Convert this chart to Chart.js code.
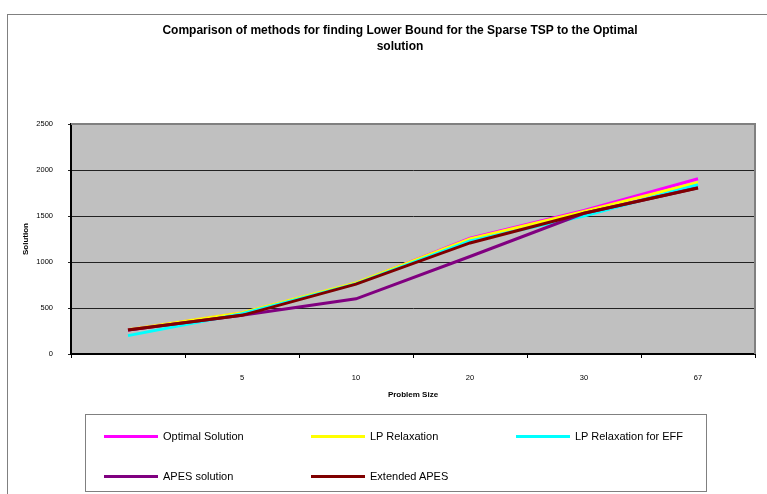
<!DOCTYPE html>
<html>
<head>
<meta charset="utf-8">
<script src="https://cdn.jsdelivr.net/npm/chart.js@4"></script>
<style>
  body { margin: 0; background: #fff; font-family: "Liberation Sans", Arial, sans-serif; }
  #wrap { position: relative; width: 767px; height: 494px; overflow: hidden; }
  #frame { position: absolute; left: 7px; top: 14px; width: 800px; height: 500px;
           border-left: 1px solid #808080; border-top: 1px solid #808080; }
  #title { position: absolute; left: 100px; width: 600px; top: 22px; text-align: center;
           font-weight: bold; font-size: 12px; line-height: 16px; color: #000; }
  #legend { position: absolute; left: 85px; top: 414px; width: 622px; height: 78px;
            border: 1px solid #808080; box-sizing: border-box; }
  .item { position: absolute; font-size: 11px; color: #000; white-space: nowrap; }
  .item span.line { position: absolute; left: 0; top: 6px; width: 54px; height: 3px; }
  .item span.txt { position: absolute; left: 59px; top: 0; line-height: 14px; }
  canvas { position: absolute; left: 0; top: 0; }
</style>
</head>
<body>
<div id="wrap">
  <div id="frame"></div>
  <canvas id="lineChart" width="767" height="494"></canvas>
  <div id="title">Comparison of methods for finding Lower Bound for the Sparse TSP to the Optimal<br>solution</div>
  <div id="legend"></div>
</div>
<script>
var sizes = ['', '5', '10', '20', '30', '67'];
var seriesNames = ['Optimal Solution', 'LP Relaxation', 'LP Relaxation for EFF', 'APES solution', 'Extended APES'];
var optimal = [262, 445, 768, 1258, 1560, 1905];
var lpRelax = [265, 448, 772, 1252, 1550, 1865];
var lpEff = [200, 438, 762, 1230, 1500, 1840];
var apes = [260, 420, 600, 1060, 1530, 1808];
var extApes = [262, 420, 760, 1207, 1530, 1805];
var lineColors = ['#ff00ff', '#ffff00', '#00ffff', '#800080', '#800000'];

var allSeries = [optimal, lpRelax, lpEff, apes, extApes];

var plotArea = {
    id: 'plotArea',
    beforeDraw: function (chart) {
        var a = chart.chartArea, ctx = chart.ctx;
        ctx.save();
        ctx.fillStyle = '#c0c0c0';
        ctx.fillRect(a.left, a.top, a.right - a.left, a.bottom - a.top);
        ctx.restore();
    },
    afterDraw: function (chart) {
        var a = chart.chartArea, ctx = chart.ctx;
        ctx.save();
        ctx.strokeStyle = '#808080';
        ctx.lineWidth = 2;
        ctx.beginPath();
        ctx.moveTo(a.left, a.top);
        ctx.lineTo(a.right, a.top);
        ctx.lineTo(a.right, a.bottom);
        ctx.stroke();
        ctx.restore();
    }
};

var chart = new Chart(document.getElementById('lineChart'), {
    type: 'line',
    data: {
        labels: sizes,
        datasets: allSeries.map(function (vals, i) {
            return {
                label: seriesNames[i],
                data: vals,
                borderColor: lineColors[i],
                backgroundColor: lineColors[i],
                borderWidth: 3,
                pointRadius: 0,
                tension: 0,
                fill: false,
                order: 5 - i
            };
        })
    },
    options: {
        responsive: false,
        animation: false,
        layout: { padding: { left: 17, right: 12, top: 124, bottom: 90 } },
        plugins: {
            legend: { display: false },
            title: { display: false },
            tooltip: { enabled: false }
        },
        scales: {
            x: {
                offset: true,
                afterFit: function (s) { s.height = 50; },
                grid: { drawOnChartArea: false, drawTicks: true, tickLength: 4, color: '#000', offset: true },
                border: { color: '#000', width: 2 },
                ticks: { color: '#000', padding: 15, maxRotation: 0, font: { family: 'Liberation Sans', size: 7.5 } },
                title: { display: true, text: 'Problem Size', color: '#000',
                         font: { family: 'Liberation Sans', size: 8, weight: 'bold' } }
            },
            y: {
                min: 0,
                max: 2500,
                afterFit: function (s) { s.width = 54; },
                grid: { color: '#222', tickLength: 3 },
                border: { color: '#000', width: 2 },
                ticks: {
                    stepSize: 500, color: '#000', padding: 15,
                    font: { family: 'Liberation Sans', size: 7.5 },
                    callback: function (v) { return String(v); }
                },
                title: { display: true, text: 'Solution', color: '#000',
                         font: { family: 'Liberation Sans', size: 8, weight: 'bold' } }
            }
        }
    },
    plugins: [plotArea]
});

// legend in three columns, like the original
var legend = document.getElementById('legend');
var colX = [18, 225, 430];
var rowY = [14, 54];
chart.data.datasets.forEach(function (ds, i) {
    var item = document.createElement('div');
    item.className = 'item';
    item.style.left = colX[i % 3] + 'px';
    item.style.top = rowY[Math.floor(i / 3)] + 'px';
    item.innerHTML = '<span class="line" style="background:' + ds.borderColor + '"></span><span class="txt">' + ds.label + '</span>';
    legend.appendChild(item);
});
</script>
</body>
</html>
